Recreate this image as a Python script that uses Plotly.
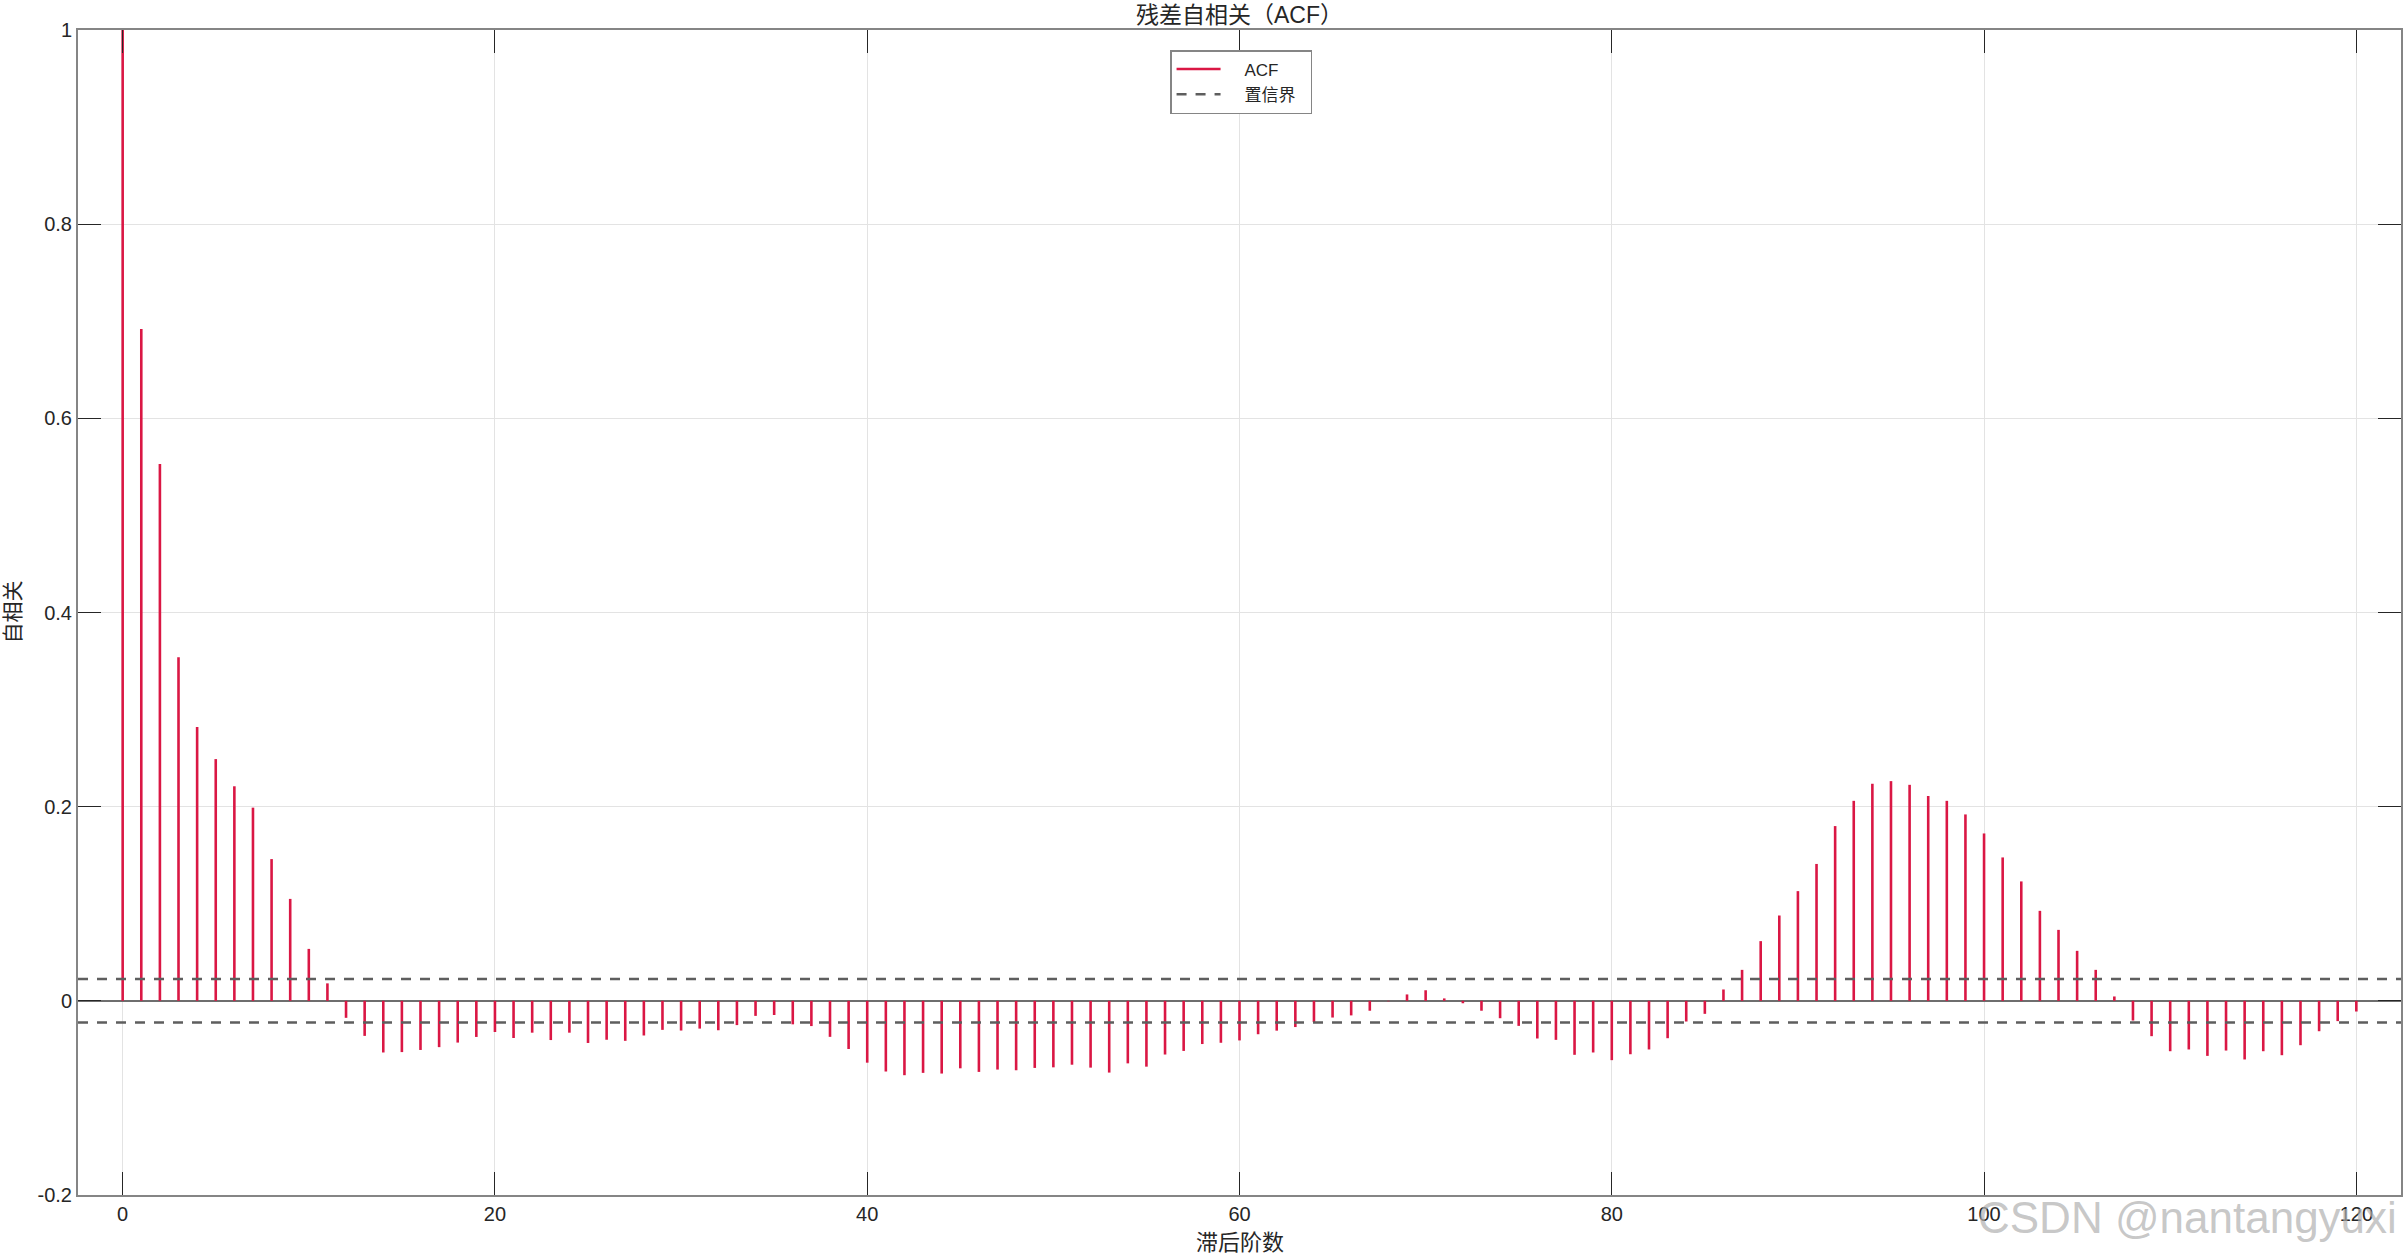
import plotly.graph_objects as go

# ---------------- data ----------------
lags = list(range(0, 121))
acf = [
    1.0, 0.692, 0.553, 0.354, 0.282, 0.249, 0.221, 0.199, 0.146, 0.105,
    0.0535, 0.018, -0.0175, -0.0361, -0.0532, -0.0528, -0.0506, -0.0477, -0.0430, -0.0372,
    -0.0321, -0.0383, -0.0328, -0.0404, -0.0328, -0.0434, -0.0401, -0.0412, -0.0357, -0.0299,
    -0.0306, -0.0286, -0.0303, -0.0250, -0.0155, -0.0146, -0.0242, -0.0260, -0.0371, -0.0496,
    -0.0637, -0.0728, -0.0766, -0.0742, -0.0749, -0.0695, -0.0732, -0.0708, -0.0715, -0.0691,
    -0.0685, -0.0658, -0.0688, -0.0739, -0.0644, -0.0678, -0.0553, -0.0516, -0.0445, -0.0432,
    -0.0408, -0.0344, -0.0307, -0.0270, -0.0219, -0.0172, -0.0150, -0.0102, -0.0005, 0.0066,
    0.0109, 0.0025, -0.0025, -0.0102, -0.0179, -0.0258, -0.0388, -0.0402, -0.0556, -0.0532,
    -0.0611, -0.0550, -0.0501, -0.0385, -0.0213, -0.0134, 0.0117, 0.0319, 0.0615, 0.0879,
    0.1130, 0.1410, 0.1800, 0.2060, 0.2236, 0.2263, 0.2225, 0.2110, 0.2060, 0.1920,
    0.1724, 0.1477, 0.1230, 0.0927, 0.0731, 0.0515, 0.0319, 0.0045, -0.0203, -0.0364,
    -0.0519, -0.0501, -0.0567, -0.0512, -0.0604, -0.0519, -0.0560, -0.0457, -0.0313, -0.0209,
    -0.0110,
]
conf_bound = 0.0224
x_range = [-2.4, 122.4]
y_range = [-0.2, 1.0]
x_ticks = [0, 20, 40, 60, 80, 100, 120]
y_ticks = [-0.2, 0, 0.2, 0.4, 0.6, 0.8, 1]
y_ticklabels = ["-0.2", "0", "0.2", "0.4", "0.6", "0.8", "1"]

title_text = "残差自相关（ACF）"
x_label = "滞后阶数"
y_label = "自相关"
legend_acf = "ACF"
legend_conf = "置信界"
watermark = "CSDN @nantangyuxi"

# ---------------- styles ----------------
LATIN = "Liberation Sans, Arial, Noto Sans CJK SC, sans-serif"
MIXED = "Liberation Sans, Noto Sans CJK SC, sans-serif"
STEM_COLOR = "#DA1744"
CONF_COLOR = "#5E5E5E"
AXIS_COLOR = "#858585"
TEXT_COLOR = "#262626"
GRID_COLOR = "#E3E3E3"

W, H = 2406, 1255
ML, MR, MT, MB = 78, 3, 30, 60
NBSP = "\u00a0"

# stems
sx, sy = [], []
for lag, v in zip(lags, acf):
    sx += [lag, lag, None]
    sy += [0, v, None]

fig = go.Figure()
fig.add_trace(go.Scatter(
    x=sx, y=sy, mode="lines", name=NBSP * 4 + legend_acf,
    line=dict(color=STEM_COLOR, width=2.6), hoverinfo="skip",
))
fig.add_trace(go.Scatter(
    x=x_range, y=[conf_bound, conf_bound], mode="lines",
    name=NBSP * 4 + legend_conf + NBSP * 2,
    line=dict(color=CONF_COLOR, width=2.5, dash="10px,9px"), hoverinfo="skip",
))
fig.add_trace(go.Scatter(
    x=x_range, y=[-conf_bound, -conf_bound], mode="lines", name=legend_conf,
    showlegend=False,
    line=dict(color=CONF_COLOR, width=2.5, dash="10px,9px"), hoverinfo="skip",
))

plot_w = W - ML - MR
plot_h = H - MT - MB

fig.update_layout(
    width=W, height=H,
    margin=dict(l=ML, r=MR, t=MT, b=MB, pad=0),
    paper_bgcolor="white", plot_bgcolor="white",
    showlegend=True,
    legend=dict(
        x=(1171 - ML) / plot_w, y=1 - (50 - MT) / plot_h,
        xanchor="left", yanchor="top",
        bgcolor="white", bordercolor=AXIS_COLOR, borderwidth=1.5,
        font=dict(family=MIXED, size=17, color=TEXT_COLOR),
        itemwidth=44, tracegroupgap=0,
    ),
    title=dict(
        text=title_text, x=0.5, xref="paper", xanchor="center",
        y=1 - 15 / H, yref="container", yanchor="middle",
        font=dict(family=MIXED, size=23, color=TEXT_COLOR),
    ),
    xaxis=dict(
        range=x_range, tickvals=x_ticks,
        showgrid=True, gridcolor=GRID_COLOR, gridwidth=1,
        zeroline=False,
        showline=True, linecolor=AXIS_COLOR, linewidth=2, mirror="ticks",
        ticks="inside", ticklen=23, tickwidth=1, tickcolor=TEXT_COLOR,
        tickfont=dict(family=LATIN, size=20, color=TEXT_COLOR),
    ),
    yaxis=dict(
        range=y_range, tickvals=y_ticks, ticktext=y_ticklabels,
        showgrid=True, gridcolor=GRID_COLOR, gridwidth=1,
        zeroline=True, zerolinecolor="#6E6E6E", zerolinewidth=1.5,
        showline=True, linecolor=AXIS_COLOR, linewidth=2, mirror="ticks",
        ticks="inside", ticklen=23, tickwidth=1, tickcolor=TEXT_COLOR,
        tickfont=dict(family=LATIN, size=20, color=TEXT_COLOR),
    ),
    annotations=[
        dict(text=x_label, xref="paper", yref="paper", x=0.5, y=0,
             xanchor="center", yanchor="middle", yshift=-(1242 - (H - MB)),
             showarrow=False, font=dict(family=MIXED, size=22, color=TEXT_COLOR)),
        dict(text=y_label, xref="paper", yref="paper", x=0, y=0.5,
             xanchor="center", yanchor="middle", xshift=-(ML - 12), textangle=-90,
             showarrow=False, font=dict(family=MIXED, size=21, color=TEXT_COLOR)),
        dict(text=watermark, xref="paper", yref="paper", x=1, y=0,
             xanchor="right", yanchor="middle", xshift=-2, yshift=-22,
             showarrow=False, font=dict(family=LATIN, size=44, color="rgba(175,175,175,0.7)")),
    ],
)

fig.write_html(
    "out.html",
    config={"displayModeBar": False},
    post_script="document.body.style.margin='0';document.body.style.overflow='hidden';",
)
